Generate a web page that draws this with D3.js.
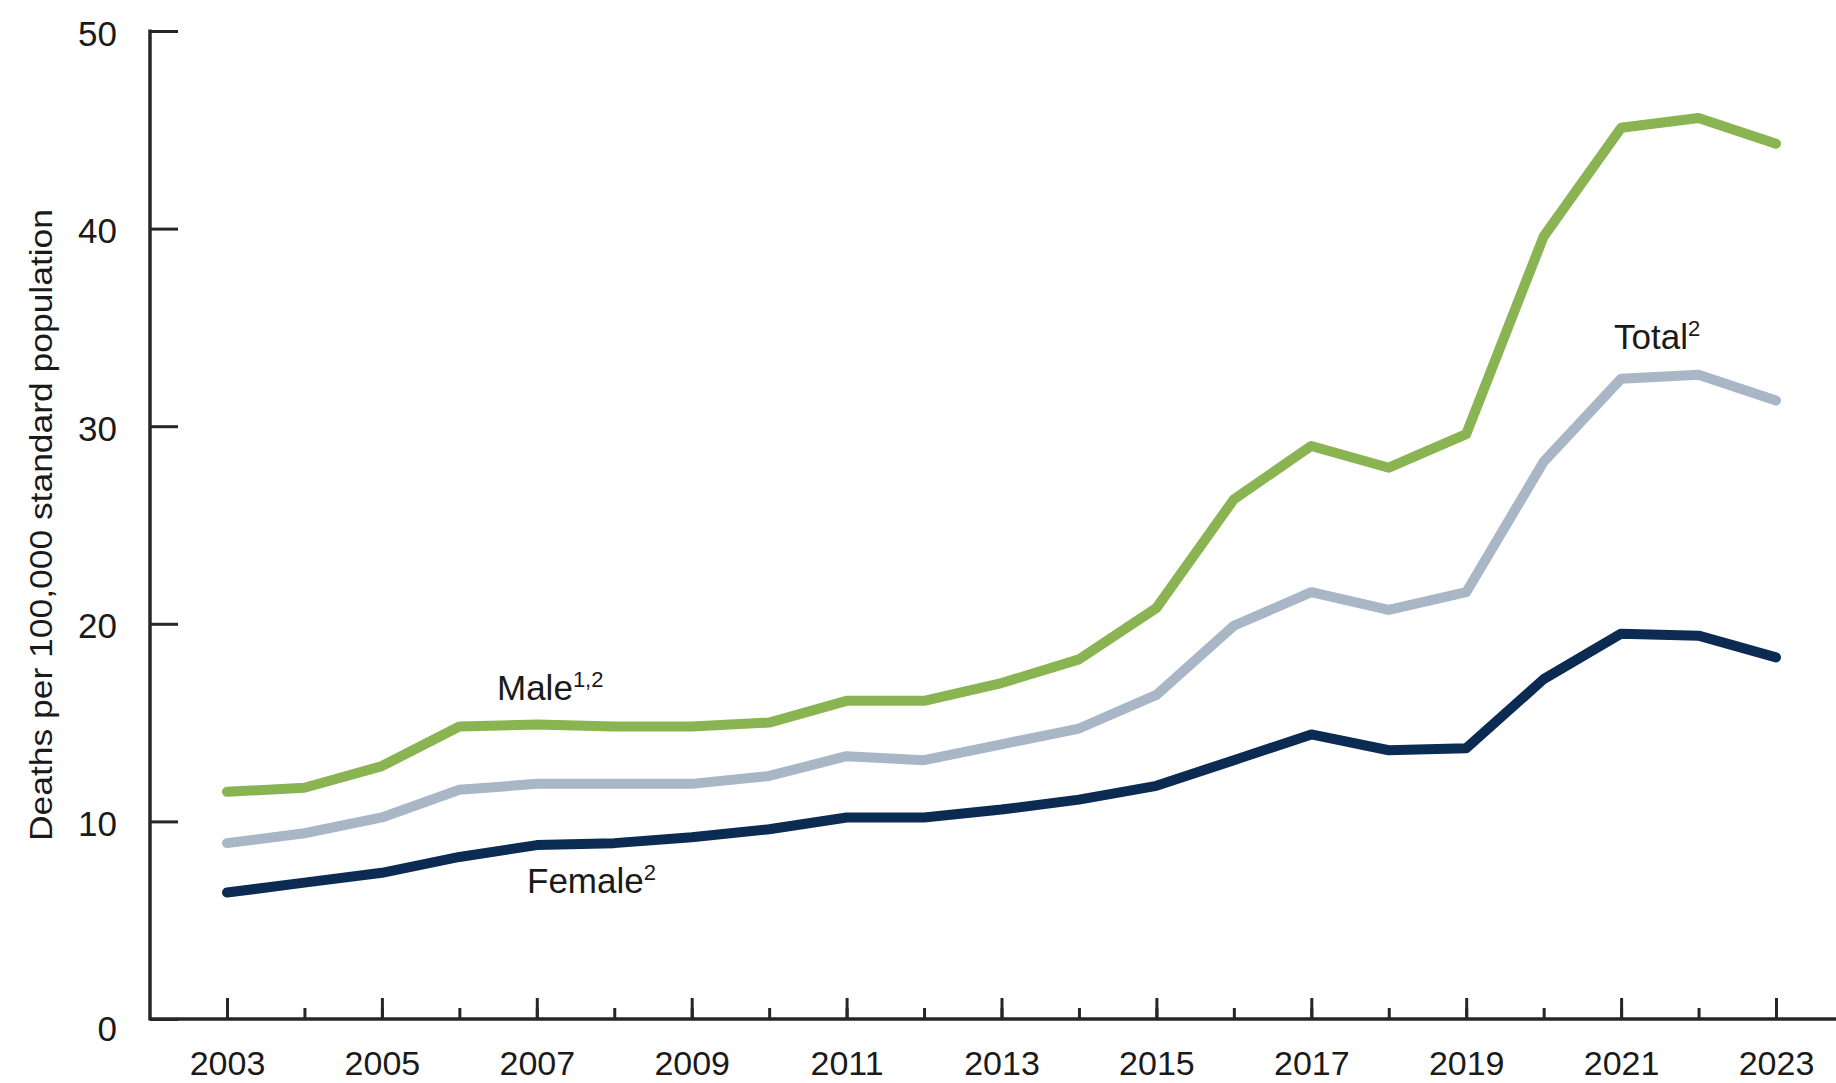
<!DOCTYPE html>
<html>
<head>
<meta charset="utf-8">
<script src="https://cdn.jsdelivr.net/npm/d3@7"></script>
<style>
  html, body { margin: 0; padding: 0; background: #ffffff; }
  svg { display: block; }
  text { font-family: "Liberation Sans", Arial, Helvetica, sans-serif; fill: #1a1a1a; }
</style>
</head>
<body>
<svg id="chart" width="1836" height="1083"></svg>
<script>
const years = [2003,2004,2005,2006,2007,2008,2009,2010,2011,2012,2013,2014,2015,2016,2017,2018,2019,2020,2021,2022,2023];
const male   = [11.5,11.7,12.8,14.8,14.9,14.8,14.8,15.0,16.1,16.1,17.0,18.2,20.8,26.3,29.0,27.9,29.6,39.6,45.1,45.6,44.3];
const total  = [8.9,9.4,10.2,11.6,11.9,11.9,11.9,12.3,13.3,13.1,13.9,14.7,16.4,19.9,21.6,20.7,21.6,28.2,32.4,32.6,31.3];
const female = [6.4,6.9,7.4,8.2,8.8,8.9,9.2,9.6,10.2,10.2,10.6,11.1,11.8,13.1,14.4,13.6,13.7,17.2,19.5,19.4,18.3];
const yTicks = [0,10,20,30,40,50];
const xLabelYears = [2003,2005,2007,2009,2011,2013,2015,2017,2019,2021,2023];
const seriesNames = ["Male", "Total", "Female"];
const seriesSups = ["1,2", "2", "2"];
const yTitle = "Deaths per 100,000 standard population";

const W = 1836, H = 1083;
const svg = d3.select("#chart");
const axisX0 = 150;

const x = d3.scaleLinear().domain([2003, 2023]).range([227, 1776]);
const y = d3.scaleLinear().domain([0, 50]).range([1019, 31]);

const axisColor = "#262626";

// Y axis
const gy = svg.append("g").attr("transform", `translate(${axisX0},0)`)
  .call(d3.axisLeft(y).tickValues(yTicks).tickSizeInner(-28).tickSizeOuter(0).tickPadding(33).tickFormat(d3.format("d")));
gy.select(".domain").remove();
gy.selectAll(".tick line").attr("stroke", axisColor).attr("stroke-width", 3);
gy.selectAll(".tick text").attr("font-size", 35).attr("fill", "#1a1a1a")
  .attr("dy", d => d === 0 ? "0.62em" : "0.4em");

// X axis minor ticks (every year)
const gxMinor = svg.append("g").attr("transform", `translate(0,${y(0)})`)
  .call(d3.axisBottom(x).tickValues(years).tickSizeInner(-11).tickSizeOuter(0).tickFormat(""));
gxMinor.select(".domain").remove();
gxMinor.selectAll(".tick line").attr("stroke", axisColor).attr("stroke-width", 3);

// X axis major ticks + labels
const gx = svg.append("g").attr("transform", `translate(0,${y(0)})`)
  .call(d3.axisBottom(x).tickValues(xLabelYears).tickSizeInner(-21).tickSizeOuter(0).tickPadding(32).tickFormat(d3.format("d")));
gx.select(".domain").remove();
gx.selectAll(".tick line").attr("stroke", axisColor).attr("stroke-width", 3);
gx.selectAll(".tick text").attr("font-size", 34).attr("fill", "#1a1a1a");

// Axis lines
svg.append("line").attr("x1", axisX0).attr("x2", axisX0).attr("y1", y(50) - 1.5).attr("y2", y(0) + 1.5)
  .attr("stroke", axisColor).attr("stroke-width", 3.5);
svg.append("line").attr("x1", axisX0).attr("x2", W).attr("y1", y(0)).attr("y2", y(0))
  .attr("stroke", axisColor).attr("stroke-width", 3.5);

// Y title
svg.append("text")
  .attr("transform", `translate(52,525) rotate(-90)`)
  .attr("text-anchor", "middle")
  .attr("font-size", 32)
  .attr("textLength", 632)
  .attr("lengthAdjust", "spacingAndGlyphs")
  .text(yTitle);

// Lines
const line = d3.line().x((d, i) => x(years[i])).y(d => y(d));
const data = [
  {vals: male, color: "#8ab352"},
  {vals: total, color: "#a8b6c6"},
  {vals: female, color: "#0c2b52"}
];
data.forEach(s => {
  svg.append("path").datum(s.vals)
    .attr("d", line)
    .attr("fill", "none")
    .attr("stroke", s.color)
    .attr("stroke-width", 10)
    .attr("stroke-linejoin", "round")
    .attr("stroke-linecap", "round");
});

// Series labels
const labelPos = [
  {x: 497, y: 700},
  {x: 1614, y: 349},
  {x: 527, y: 893}
];
seriesNames.forEach((n, i) => {
  const t = svg.append("text").attr("x", labelPos[i].x).attr("y", labelPos[i].y).attr("font-size", 35);
  t.append("tspan").text(n);
  t.append("tspan").attr("font-size", 22).attr("dy", -13).text(seriesSups[i]);
});
</script>
</body>
</html>
